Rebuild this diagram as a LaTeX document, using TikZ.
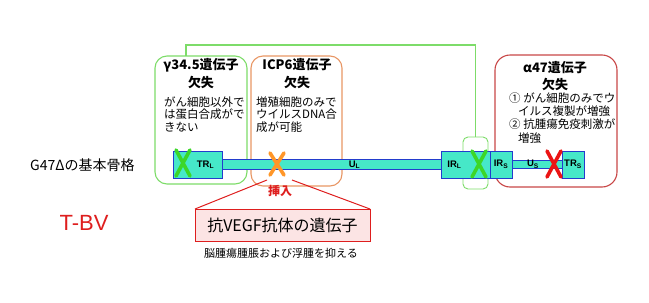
\documentclass[tikz,border=0pt]{standalone}
\usepackage{fontspec}
\setmainfont{Noto Sans CJK JP}
\newfontfamily\latinsf{Liberation Sans}
\usetikzlibrary{positioning}
\definecolor{boxgreen}{RGB}{125,220,105}
\definecolor{boxorange}{RGB}{232,150,100}
\definecolor{boxred}{RGB}{200,70,70}
\definecolor{segfill}{RGB}{70,232,200}
\definecolor{segline}{RGB}{35,60,205}
\definecolor{xgreen}{RGB}{60,215,40}
\definecolor{xorange}{RGB}{255,150,40}
\definecolor{xred}{RGB}{235,20,20}
\definecolor{insred}{RGB}{222,30,30}
\definecolor{pinkfill}{RGB}{252,228,228}
\begin{document}
\begin{tikzpicture}[x=1pt,y=-1pt,
  panel/.style={draw=#1, line width=1.1pt, rounded corners=12pt, inner sep=0pt, outer sep=0pt},
  headtext/.style={font=\fontsize{13}{18}\selectfont\bfseries, align=center, inner sep=0pt, anchor=north},
  bodytext/.style={font=\fontsize{11.5}{12.5}\selectfont, align=left, inner sep=0pt, anchor=north west},
  segbox/.style={draw=segline, fill=segfill, line width=0.9pt, minimum height=27pt, inner sep=0pt, outer sep=0pt},
  segbar/.style={draw=segline, fill=segfill, line width=0.9pt, minimum height=#1, inner sep=0pt, outer sep=0pt},
  seglabel/.style={font=\latinsf\bfseries\fontsize{9.5}{10}\selectfont, inner sep=0pt},
  xcross/.pic={\draw[line width=3.6pt, line cap=round] (-7,-13) -- (7,13) (-7,13) -- (7,-13);}]
\useasboundingbox (0,0) rectangle (649,303);
% deletion panels
\node[panel=boxgreen, minimum width=92pt, minimum height=128pt] (gamma) at (201,120) {};
\node[panel=boxorange, minimum width=91pt, minimum height=130pt] (icp) at (296.5,121) {};
\node[panel=boxred, rounded corners=15pt, minimum width=122pt, minimum height=132pt] (alpha) at (556,121) {};
\node[headtext] (gammahead) at (201,58.5) {γ34.5遺伝子\\欠失};
\node[bodytext] (gammabody) at (164,96.3) {がん細胞以外で\\は蛋白合成がで\\きない};
\node[headtext] (icphead) at (297,58.5) {ICP6遺伝子\\欠失};
\node[bodytext] (icpbody) at (256,96.3) {増殖細胞のみで\\ウイルスDNA合\\成が可能};
\node[headtext, font=\fontsize{13}{17}\selectfont\bfseries] (alphahead) at (555,61.5) {α47遺伝子\\欠失};
\node[bodytext, font=\fontsize{11.5}{13.3}\selectfont] (alphabody) at (509,92.3) {①\ がん細胞のみでウ\\\hspace*{9pt}イルス複製が増強\\②\ 抗腫瘍免疫刺激が\\\hspace*{9pt}増強};
% second gamma34.5 copy
\node[panel=boxgreen, rounded corners=5pt, line width=0.9pt, minimum width=25pt, minimum height=52pt] (irlx) at (475.5,163) {};
\draw[boxgreen, line width=1.1pt] ([xshift=-15pt]gamma.north) -- ++(0,-11) -| (irlx.north);
% genome backbone
\node[font=\fontsize{14}{14}\selectfont, inner sep=0pt, anchor=west] (backbone) at (30,165) {G47Δの基本骨格};
\node[segbox, minimum width=49pt] (trl) at (197.5,164.5) {};
\node[segbar=10pt, minimum width=219pt, right=0pt of trl] (ul) {};
\node[segbox, minimum width=49pt, right=0pt of ul] (irl) {};
\node[segbox, minimum width=22pt, right=0pt of irl] (irs) {};
\node[segbar=8pt, minimum width=50pt, right=0pt of irs] (us) {};
\node[segbox, minimum width=22pt, right=0pt of us] (trs) {};
\node[seglabel] at ([xshift=8pt]trl.center) {TR\textsubscript{L}};
\node[seglabel] at ([xshift=23pt]ul.center) {U\textsubscript{L}};
\node[seglabel] at ([xshift=-11pt]irl.center) {IR\textsubscript{L}};
\node[seglabel] at (irs.center) {IR\textsubscript{S}};
\node[seglabel] at ([xshift=-4pt]us.center) {U\textsubscript{S}};
\node[seglabel] at (trs.center) {TR\textsubscript{S}};
\pic[xgreen] at (183,163) {xcross};
\pic[xgreen] at (479,164) {xcross};
\pic[xorange, yscale=0.85] at (277,164) {xcross};
\pic[xred] at (554,164) {xcross};
% insertion
\node[font=\fontsize{12}{12}\selectfont\bfseries, text=insred, inner sep=0pt] (ins) at (280,191) {挿入};
\node[draw=insred, fill=pinkfill, line width=1pt, minimum width=175pt, minimum height=32pt, inner sep=0pt, outer sep=0pt, font=\fontsize{16}{16}\selectfont] (gene) at (282.5,225) {抗VEGF抗体の遺伝子};
\coordinate (insl) at (267,180);
\coordinate (insr) at (292,180);
\draw[insred, line width=1pt] (insl) -- (gene.north west) (insr) -- (gene.north east);
\node[font=\fontsize{11}{11}\selectfont, inner sep=0pt] (effect) at (281,253) {脳腫瘍腫脹および浮腫を抑える};
\node[font=\latinsf\fontsize{22}{22}\selectfont, text=insred, inner sep=0pt] (tbv) at (84,223) {T-BV};
\end{tikzpicture}
\end{document}
